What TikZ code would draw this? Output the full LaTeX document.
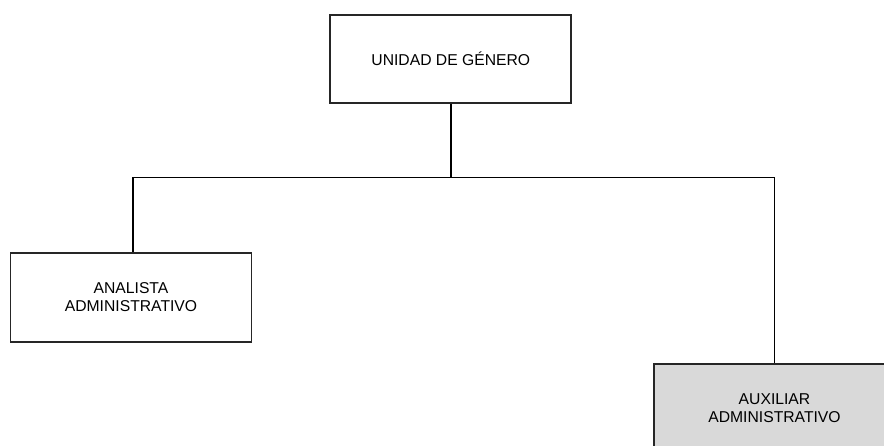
\documentclass[tikz,border=0pt]{standalone}
\usepackage{fontspec}
\setmainfont{Liberation Sans}
\begin{document}
\begin{tikzpicture}[x=1pt,y=-1pt,
  orgbox/.style={draw=black!85, line width=1.8pt, minimum width=241pt, align=center,
    font=\fontsize{15.7}{18.3}\selectfont, inner sep=0pt},
  link/.style={line width=1.8pt, black}]
\useasboundingbox (0,0) rectangle (884,446);
\clip (0,0) rectangle (884,446);
\node[orgbox, minimum height=88pt] (ug) at (450.8,59) {UNIDAD DE GÉNERO};
\node[orgbox, minimum height=89pt] (an) at (131,297.2) {ANALISTA\\ADMINISTRATIVO};
\node[orgbox, minimum height=89pt, fill=black!15] (aux) at (774.5,408.5) {AUXILIAR\\ADMINISTRATIVO};
\coordinate (bus) at (ug.south |- 0,177.5);
\coordinate (busl) at (132.7,177.5);
\draw[link] (ug.south) -- (bus);
\draw[link] (busl) -- (busl -| aux.north) -- (aux.north);
\draw[link] (busl) -- (busl |- an.north);
\end{tikzpicture}
\end{document}
